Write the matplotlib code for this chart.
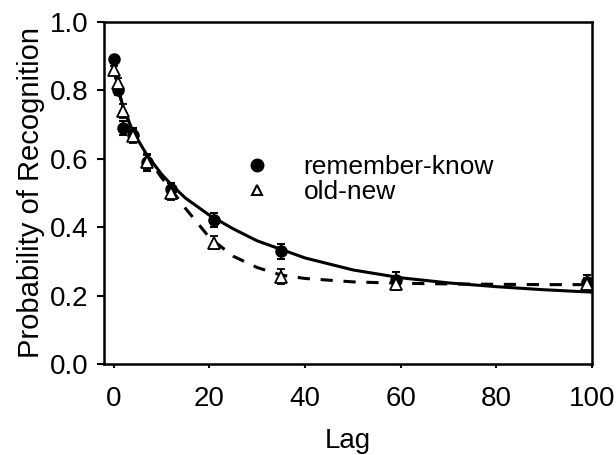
import matplotlib.pyplot as plt
from matplotlib.lines import Line2D

plt.rcParams['font.family'] = ['Liberation Sans', 'DejaVu Sans']

# observed data
lags = [0, 1, 2, 4, 7, 12, 21, 35, 59, 99]
rk_vals = [0.89, 0.80, 0.69, 0.67, 0.59, 0.51, 0.42, 0.33, 0.245, 0.24]
rk_err = [0.01, 0.015, 0.02, 0.02, 0.025, 0.02, 0.02, 0.022, 0.025, 0.02]
on_vals = [0.86, 0.82, 0.74, 0.665, 0.59, 0.50, 0.355, 0.255, 0.235, 0.235]
on_err = [0.01, 0.015, 0.02, 0.02, 0.02, 0.02, 0.02, 0.022, 0.02, 0.015]

# fitted curves
fit_x = [0, 1, 2, 4, 7, 10, 12, 15, 20, 25, 30, 35, 40, 50, 60, 70, 80, 90, 100]
rk_fit = [0.87, 0.80, 0.75, 0.68, 0.61, 0.555, 0.525, 0.485, 0.435, 0.395, 0.36, 0.335, 0.31, 0.275, 0.252, 0.237, 0.226, 0.217, 0.21]
on_fit = [0.87, 0.80, 0.75, 0.68, 0.605, 0.545, 0.51, 0.455, 0.37, 0.315, 0.282, 0.26, 0.25, 0.24, 0.236, 0.234, 0.233, 0.232, 0.232]

fig = plt.figure(figsize=(6.16, 4.55), dpi=100)
ax = fig.add_axes([0.169, 0.2, 0.792, 0.752])

ax.plot(fit_x, rk_fit, color='black', lw=2.2, zorder=2)
ax.plot(fit_x, on_fit, color='black', lw=2.2, ls=(0, (4, 3.5)), zorder=2)

ax.errorbar(lags, rk_vals, yerr=rk_err, fmt='o', color='black', ms=8,
            capsize=3, elinewidth=1.5, capthick=1.5, zorder=3)
ax.errorbar(lags, on_vals, yerr=on_err, fmt='^', color='black', mfc='white',
            mew=1.3, ms=8, capsize=3, elinewidth=1.5, capthick=1.5, zorder=4)

ax.set_xlim(-2, 100)
ax.set_ylim(0, 1.0)
ax.set_xticks([0, 20, 40, 60, 80, 100])
ax.set_yticks([0.0, 0.2, 0.4, 0.6, 0.8, 1.0])
ax.set_yticklabels(['0.0', '0.2', '0.4', '0.6', '0.8', '1.0'])
ax.tick_params(direction='out', labelsize=20, width=1.5, length=5)
ax.tick_params(axis='y', pad=6)
ax.tick_params(axis='x', length=3, pad=13)
for s in ax.spines.values():
    s.set_linewidth(1.8)

ax.set_xlabel('Lag', fontsize=20, labelpad=11)
ax.set_ylabel('Probability of Recognition', fontsize=21, labelpad=4)

handles = [Line2D([], [], marker='o', ls='none', color='black', ms=9),
           Line2D([], [], marker='^', ls='none', color='black', mfc='white',
                  mew=1.5, ms=7)]
ax.legend(handles, ['remember-know', 'old-new'], loc='upper left',
          bbox_to_anchor=(0.225, 0.68), frameon=False, fontsize=19,
          handletextpad=1.0, labelspacing=0.05, handlelength=1.5)

fig.savefig('out.png', dpi=100)
